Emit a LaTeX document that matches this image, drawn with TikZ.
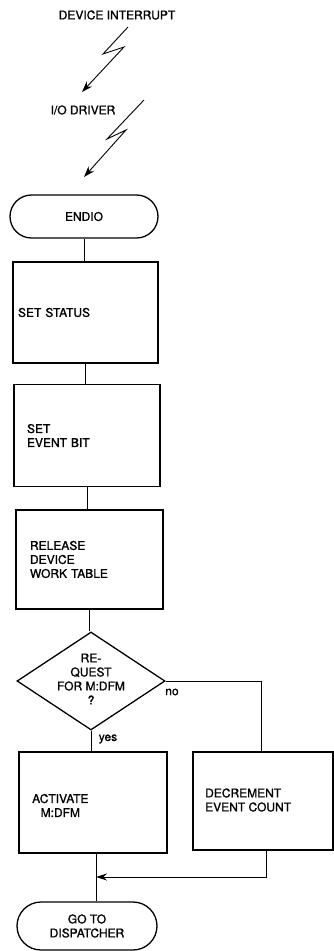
\documentclass[tikz,border=0pt]{standalone}
\usepackage{fontspec}
\newfontfamily\hv[FakeBold=1.2]{TeX Gyre Heros}
\usetikzlibrary{shapes.geometric,shapes.misc,arrows.meta,calc}
\tikzset{
  every node/.style={font=\hv\fontsize{12}{14}\selectfont},
  box/.style={draw, line width=1.3pt, inner ysep=0pt, align=left},
  term/.style={draw, line width=1.3pt, rounded rectangle, inner sep=0pt, align=center},
  cond/.style={draw, line width=1.3pt, diamond, inner sep=0pt, minimum width=148pt, minimum height=98pt},
  flow/.style={line width=1pt},
  bolt/.style={line width=0.9pt, -{Stealth[length=11pt,width=7.5pt]}},
  txt/.style={inner sep=0pt, align=left},
}
\begin{document}
\begin{tikzpicture}[x=1pt,y=-1pt]
\useasboundingbox[fill=white] (0,0) rectangle (334,951);
% labels
\node[txt] (di) at (117,15) {DEVICE INTERRUPT};
\node[txt] (io) at (83,110) {I/O DRIVER};
% terminals
\node[term, minimum width=148pt, minimum height=43pt] (endio) at (84,216.5) {ENDIO};
% process boxes
\node[box, minimum height=101pt, inner xsep=5pt, text width=135pt] (s1) at (85.5,312.5) {SET STATUS};
\node[box, minimum height=102pt, inner xsep=13pt, text width=120pt] (s2) at (87,435.5) {SET\\EVENT BIT};
\node[box, minimum height=99pt, inner xsep=14pt, text width=119pt] (s3) at (89.5,559.5) {RELEASE\\DEVICE\\WORK TABLE};
% decision
\node[cond] (q) at (91,681) {};
\node[txt, align=center] (qt) at (91,679) {RE-\\QUEST\\FOR M:DFM\\?};
\node[txt] (no) at (172,692) {no};
\node[txt] (yes) at (108,739) {yes};
% lower boxes
\node[box, minimum width=148pt, minimum height=101pt] (act) at (93,802.5) {};
\node[txt, align=center, anchor=west] (actt) at (32,805.5) {ACTIVATE\\M:DFM};
\node[box, minimum width=140pt, minimum height=98pt] (decr) at (263,801) {};
\node[txt, anchor=west] (decrt) at (205,800) {DECREMENT\\EVENT COUNT};
\node[term, minimum width=140pt, minimum height=48pt] (go) at (87,926) {GO TO\\DISPATCHER};
% bolt points and junction
\coordinate (a0) at (128,27);
\coordinate (a1) at (103,54);
\coordinate (a2) at (124,47);
\coordinate (a3) at (82,92);
\coordinate (b0) at (144,100);
\coordinate (b1) at (107,139);
\coordinate (b2) at (126,130);
\coordinate (b3) at (84,177);
\coordinate (j) at (96,877);
% lightning connectors
\draw[bolt] (a0) -- (a1) -- (a2) -- (a3);
\draw[bolt] (b0) -- (b1) -- (b2) -- (b3);
% flow lines
\draw[flow] (endio.south) -- (endio.south |- s1.north);
\draw[flow] (s1.south) -- (s1.south |- s2.north);
\draw[flow] (s2.south) -- (s2.south |- s3.north);
\draw[flow] (s3.south) -- (s3.south |- q.north);
\draw[flow] (q.south) -- (q.south |- act.north);
\draw[flow] (q.east) -| ([xshift=-2pt]decr.north);
\draw[flow, -{Stealth[length=11pt,width=7pt]}] ([xshift=3pt]decr.south) |- (j);
\draw[flow] (act.south -| j) -- (go.north -| j);
\end{tikzpicture}
\end{document}
